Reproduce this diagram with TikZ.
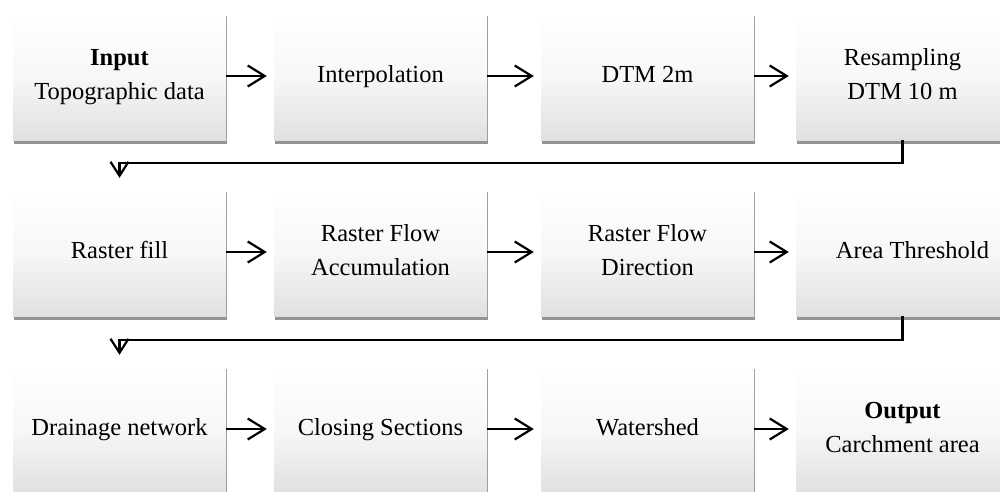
\documentclass[tikz,border=0pt]{standalone}
\usepackage{fontspec}
\setmainfont{Liberation Serif}
\usetikzlibrary{arrows.meta,shadows,positioning}
\tikzset{
  box/.style={rectangle, minimum width=213pt, minimum height=128pt, inner sep=0pt,
    top color=white, bottom color=black!12, middle color=black!3, draw=none, align=center,
    font=\fontsize{24.5}{34}\selectfont,
    drop shadow={shadow xshift=0.5pt, shadow yshift=-3.5pt, fill=black!70, opacity=0.6}},
  arr/.style={line width=2.2pt, -{Straight Barb[length=17pt,width=21pt,line width=2.2pt]}, shorten >=7pt},
  darr/.style={line width=2.2pt, -{Straight Barb[length=14pt,width=18pt,line width=2.2pt]}}
}
\begin{document}
\begin{tikzpicture}[x=1pt,y=-1pt]
\useasboundingbox (0,0) rectangle (1000,491);
% row 1
\node[box] (a1) at (119.5,76) {\strut\textbf{Input}\\\strut Topographic data};
\node[box] (a2) at (380.5,76) {\strut Interpolation};
\node[box] (a3) at (647.5,76) {\strut DTM 2m};
\node[box] (a4) at (902.5,76) {\strut Resampling\\\strut DTM 10 m};
% row 2
\node[box] (b1) at (119.5,252) {\strut Raster fill};
\node[box] (b2) at (380.5,252) {\strut Raster Flow\\\strut Accumulation};
\node[box] (b3) at (647.5,252) {\strut Raster Flow\\\strut Direction};
\node[box] (b4) at (902.5,252) {\strut\hspace*{20pt}Area Threshold};
% row 3
\node[box] (c1) at (119.5,429) {\strut Drainage network};
\node[box] (c2) at (380.5,429) {\strut Closing Sections};
\node[box] (c3) at (647.5,429) {\strut Watershed};
\node[box] (c4) at (902.5,429) {\strut\textbf{Output}\\\strut Carchment area};
% arrows
\draw[arr] (a1.east) -- (a2.west);
\draw[arr] (a2.east) -- (a3.west);
\draw[arr] (a3.east) -- (a4.west);
\draw[arr] (b1.east) -- (b2.west);
\draw[arr] (b2.east) -- (b3.west);
\draw[arr] (b3.east) -- (b4.west);
\draw[arr] (c1.east) -- (c2.west);
\draw[arr] (c2.east) -- (c3.west);
\draw[arr] (c3.east) -- (c4.west);
\coordinate (k1) at (119.5,163);
\coordinate (k2) at (119.5,340);
\draw[darr] (a4.south) |- (k1) -- ([yshift=10pt]b1.north);
\draw[darr] (b4.south) |- (k2) -- ([yshift=10pt]c1.north);
\end{tikzpicture}
\end{document}
